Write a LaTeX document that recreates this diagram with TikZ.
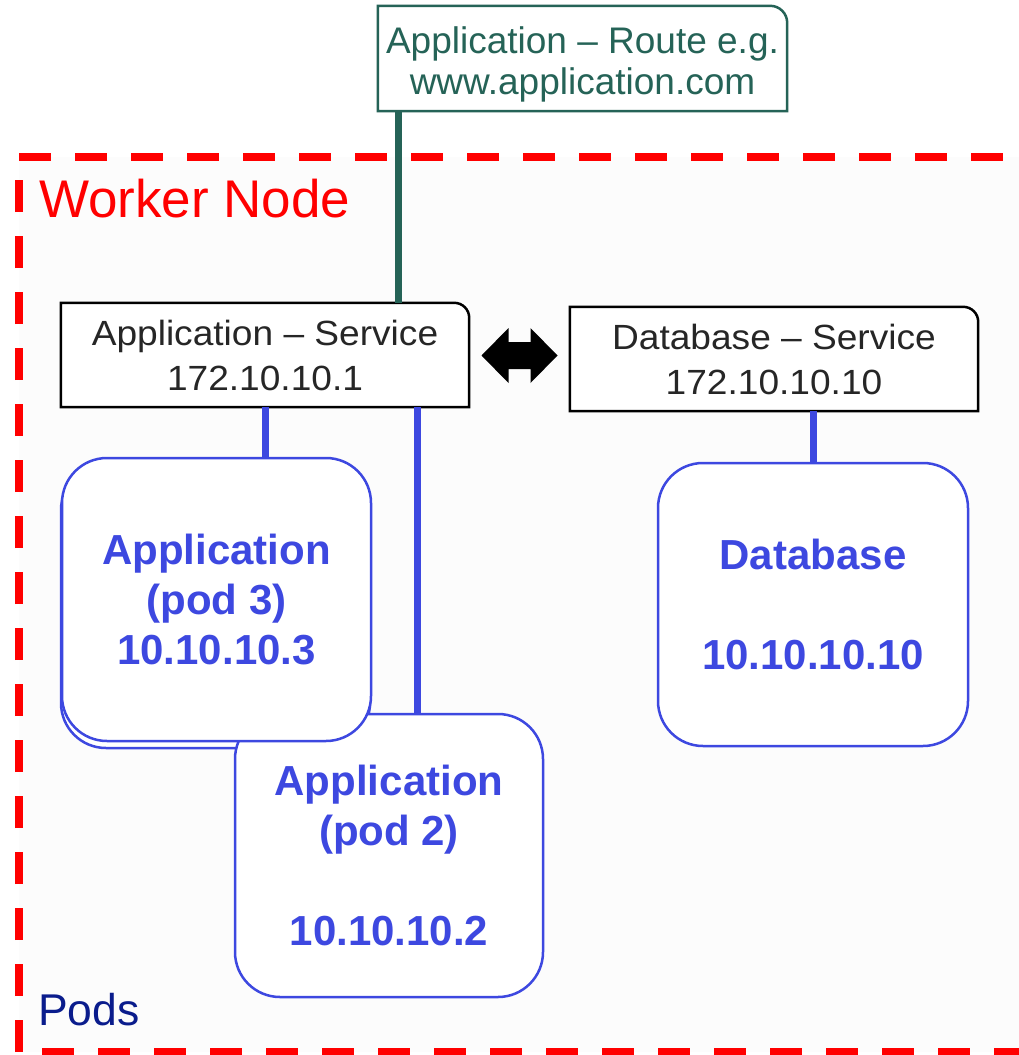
\documentclass[tikz,border=0pt]{standalone}
\usepackage{fontspec}
\setmainfont{Liberation Sans}
\newfontfamily\svcfont[FakeStretch=1.06]{Liberation Sans}
\usetikzlibrary{calc}

\definecolor{routeteal}{RGB}{37,99,87}
\definecolor{podblue}{RGB}{61,72,224}
\definecolor{nodered}{RGB}{255,0,0}
\definecolor{podsnavy}{RGB}{10,28,140}
\definecolor{svctext}{RGB}{38,38,38}
\definecolor{nodebg}{RGB}{252,252,252}

\tikzset{
  routebox/.style={fill=white, draw=none, minimum width=409pt, minimum height=105pt,
    inner sep=0pt, text=routeteal, align=center, font=\fontsize{37}{41}\selectfont},
  svcbox/.style={fill=white, draw=none, minimum width=408pt, minimum height=104pt,
    inner sep=0pt, text=svctext, align=center, font=\svcfont\fontsize{35}{45}\selectfont},
  podbox/.style={fill=white, draw=podblue, line width=2.5pt, rounded corners=45pt,
    minimum width=309pt, minimum height=283pt, inner sep=0pt, text=podblue,
    align=center, font=\bfseries\fontsize{42}{50}\selectfont},
  wire/.style={line width=7pt},
  frame/.style={draw=nodered, line width=8pt, dash pattern=on 32pt off 24pt},
}

\begin{document}
\begin{tikzpicture}[x=1pt,y=-1pt]
\useasboundingbox (0,0) rectangle (1018,1055);
\fill[white] (0,0) rectangle (1018,1055);

% worker node area
\fill[nodebg] (19,157) rectangle (1026,1052);
\draw[frame] (19,157) -- (1026,157);
\draw[frame] (1026,1052) -- (19,1052);
\draw[frame] (19,1052) -- (19,157);
\node[anchor=base west, inner sep=0pt, text=nodered, font=\fontsize{53}{60}\selectfont] (wn) at (39,217) {Worker Node};
\node[anchor=base west, inner sep=0pt, text=podsnavy, font=\fontsize{44.5}{50}\selectfont] (pods) at (38,1025) {Pods};

% route and services
\node[routebox] (route) at (582.5,58.5) {\rule{0pt}{39pt}Application – Route e.g.\\www.application.com};
\draw[routeteal, line width=2.5pt] (route.south west) -- (route.north west)
  -- ([xshift=-17pt]route.north east) arc[start angle=90, end angle=0, radius=17pt]
  -- (route.south east) -- cycle;

\node[svcbox] (svcA) at (265,355) {Application – Service\\172.10.10.1};
\draw[black, line width=2.5pt] (svcA.south west) -- (svcA.north west)
  -- ([xshift=-15pt]svcA.north east) arc[start angle=90, end angle=0, radius=15pt]
  -- (svcA.south east) -- cycle;

\node[svcbox] (svcD) at (774,359) {Database – Service\\172.10.10.10};
\draw[black, line width=2.5pt] (svcD.south west) -- (svcD.north west)
  -- ([xshift=-15pt]svcD.north east) arc[start angle=90, end angle=0, radius=15pt]
  -- (svcD.south east) -- cycle;

% route to application service
\draw[wire, routeteal] ([xshift=133pt]svcA.north) -- ([xshift=133pt]svcA.north |- route.south);

% services talk to each other
\coordinate (mid) at ($(svcA.east)!0.5!(svcD.west)$);
\fill[black] ([shift={(-38,-1.5)}]mid) -- ++(27,-27.5) -- ++(0,14) -- ++(22,0) -- ++(0,-14)
  -- ++(27,27.5) -- ++(-27,27.5) -- ++(0,-14) -- ++(-22,0) -- ++(0,14) -- cycle;

% pods
\node[podbox] (pod1) at (215.5,606.5) {};
\node[podbox, minimum width=308pt] (pod2) at (389,855.5) {Application\\(pod 2)\\[50pt]10.10.10.2};
\node[podbox] (pod3) at (216.5,599.5) {Application\\(pod 3)\\10.10.10.3};
\node[podbox, minimum width=310pt] (dbpod) at (813,604.5) {Database\\[50pt]10.10.10.10};

% service to pod wires
\draw[wire, podblue] (svcA.south) -- (svcA.south |- pod3.north);
\draw[wire, podblue] ([xshift=28pt]pod2.north) -- ([xshift=28pt]pod2.north |- svcA.south);
\draw[wire, podblue] (dbpod.north) -- (dbpod.north |- svcD.south);
\end{tikzpicture}
\end{document}
